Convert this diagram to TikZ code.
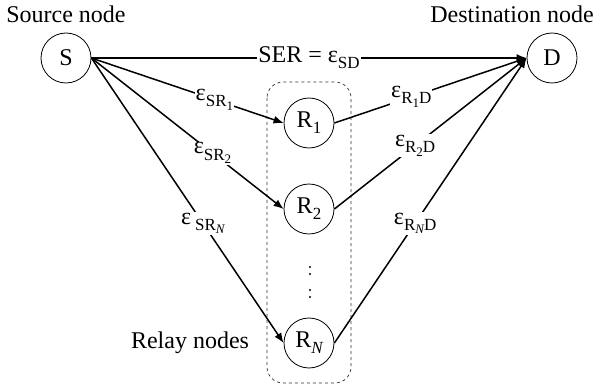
\documentclass[tikz,border=0pt]{standalone}
\usepackage{fontspec}
\setmainfont{Liberation Serif}
\usetikzlibrary{arrows.meta}
\newcommand{\lo}[1]{\raisebox{-0.55ex}{\fontsize{17}{17}\selectfont #1}}
\newcommand{\llo}[1]{\raisebox{-0.45ex}{\fontsize{13}{13}\selectfont #1}}
\tikzset{
  big/.style={font=\fontsize{24}{28}\selectfont},
  nodecirc/.style={big, circle, draw, line width=0.8pt, minimum size=50pt, inner sep=0pt},
  link/.style={line width=1.5pt},
  arr/.style={link, -{Latex[length=10pt,width=8pt]}},
  lab/.style={big, fill=white, inner sep=1pt},
  dotmark/.style={fill, circle, inner sep=0pt, minimum size=2.2pt}
}
\begin{document}
\begin{tikzpicture}[x=1pt,y=-1pt]
\useasboundingbox (0,0) rectangle (603,390);
\node[nodecirc] (S) at (66,58) {S};
\node[nodecirc] (D) at (552,58) {D};
\node[nodecirc] (R1) at (309,123) {R\lo{1}};
\node[nodecirc] (R2) at (309,209) {R\lo{2}};
\node[nodecirc] (RN) at (309,343) {R\lo{\itshape N}};
\node[big] (srcl) at (66,14) {Source node};
\node[big] (dstl) at (512,14) {Destination node};
\node[big] (rell) at (190,343) {Relay nodes};
\draw[dashed, line width=0.7pt, rounded corners=16pt, black!80] (267,82) rectangle (351,383);
\node[dotmark] (d1) at (310,267) {};
\node[dotmark] (d2) at (310,274) {};
\node[dotmark] (d3) at (310,290) {};
\node[dotmark] (d4) at (310,297) {};
\draw[arr] (S.east) -- node[lab, pos=0.5] {SER = ε\lo{SD}} (D.west);
\draw[arr] (S.east) -- node[lab, pos=0.64] {ε\lo{SR\llo{1}}} (R1.west);
\draw[arr] (S.east) -- node[lab, pos=0.63] {ε\lo{SR\llo{2}}} (R2.west);
\draw[arr] (S.east) -- node[lab, pos=0.58] {ε\,\lo{SR\llo{\itshape N}}} (RN.west);
\draw[arr] (R1.east) -- node[lab, pos=0.4] {ε\lo{R\llo{1}D}} (D.west);
\draw[arr] (R2.east) -- node[lab, pos=0.42] {ε\lo{R\llo{2}D}} (D.west);
\draw[arr] (RN.east) -- node[lab, pos=0.42] {ε\lo{R\llo{\itshape N}D}} (D.west);
\end{tikzpicture}
\end{document}
